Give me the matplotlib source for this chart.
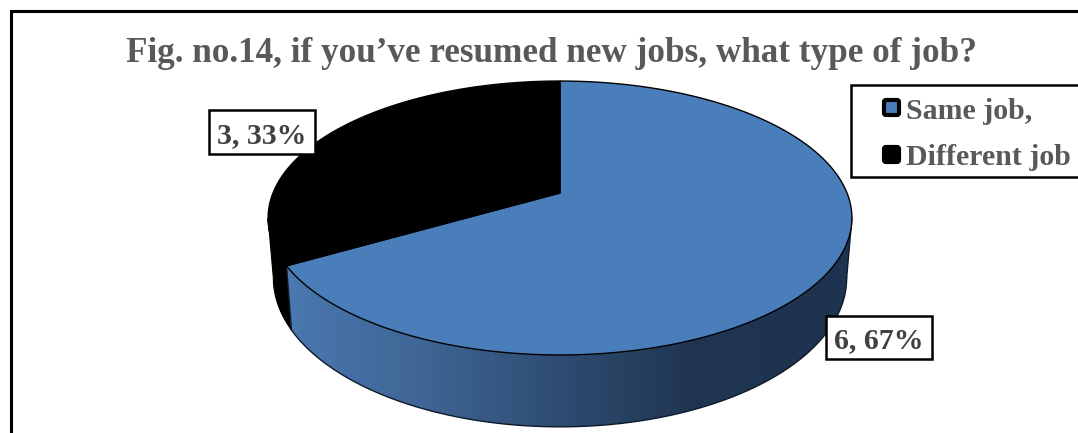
import numpy as np
import matplotlib
matplotlib.use("Agg")
import matplotlib.pyplot as plt
from matplotlib.colors import LinearSegmentedColormap
from matplotlib.patches import Polygon, Rectangle, FancyBboxPatch

plt.rcParams['font.family'] = ['Liberation Serif', 'DejaVu Serif']

title = "Fig. no.14, if you’ve resumed new jobs, what type of job?"
categories = ["Same job,", "Different job"]
values = [6, 3]
percents = [67, 33]
top_colors = ["#4A7EBB", "#000000"]

W, H = 1078, 433
fig = plt.figure(figsize=(W / 100, H / 100), dpi=100)
ax = fig.add_axes([0, 0, 1, 1])
ax.axis("off")

# Projective view of a tilted disc, centred on the pie's apex
CX, CY = 560, 193
A, B, K = 287, 132.4, 0.1825
DROP, SX, SY = 57.8, 0.982, 1.087


def project(theta):
    """Clockwise angle from twelve o'clock to points on the top rim."""
    u, v = np.sin(theta), np.cos(theta)
    d = 1 + K * v
    return A * u / d, -B * v / d


def lower_rim(theta):
    x, y = project(theta)
    return x * SX, y * SY + DROP


def xy(x, y):
    return np.column_stack([CX + x, CY + y])


def wall(t):
    return np.vstack([xy(*project(t)), xy(*lower_rim(t[::-1]))])


fractions = np.cumsum([0] + values) / sum(values)
edges = 2 * np.pi * fractions

# Angles where the rim turns back: the walls are only visible in front of these
sweep = np.linspace(0, 2 * np.pi, 7200)
right_turn = sweep[np.argmax(project(sweep)[0])]
left_turn = sweep[np.argmin(project(sweep)[0])]

side_cmap = LinearSegmentedColormap.from_list(
    "side", ["#4A78B0", "#3F6594", "#2E4C72", "#1F3550", "#1E3350"])

# Black wall, seen on the left behind the blue one
black_t = np.linspace(edges[1], left_turn, 200)
ax.add_patch(Polygon(wall(black_t), closed=True, facecolor="black", edgecolor="black",
                     linewidth=0.8, zorder=2))

# Blue wall, shaded from left to right with a clipped gradient
blue_t = np.linspace(right_turn, edges[1], 400)
blue_wall = Polygon(wall(blue_t), closed=True, facecolor="none", edgecolor="none",
                    transform=ax.transData)
ax.add_patch(blue_wall)
shade = np.linspace(0, 1, 545).reshape(1, -1)
image = ax.imshow(shade, cmap=side_cmap, extent=(287, 832, 433, 0), aspect="auto", zorder=3)
image2 = ax.imshow(np.ones((1, 1)), cmap=side_cmap, vmin=0, vmax=1,
                   extent=(832, 870, 433, 0), aspect="auto", zorder=3)
image.set_clip_path(blue_wall)
image2.set_clip_path(blue_wall)

ax.set_xlim(0, W)
ax.set_ylim(H, 0)

# Outline of the visible blue wall
ax.plot(*wall(blue_t)[len(blue_t) - 1:].T, color="#0E1A2A", lw=1.0, zorder=3.5)
ax.plot(*wall(blue_t)[[0, -1]].T, color="#0E1A2A", lw=1.0, zorder=3.5)

# Top faces of the slices
for i in range(len(values)):
    t = np.linspace(edges[i], edges[i + 1], 300)
    rim = xy(*project(t))
    ax.add_patch(Polygon(np.vstack([[CX, CY], rim]), closed=True, facecolor=top_colors[i],
                         edgecolor="#000000", linewidth=1.0, zorder=4, joinstyle="round"))

# Frame of the chart area: only top and left edges fall inside the crop
ax.plot([10.5, 10.5, W], [H, 10.5, 10.5], color="black", lw=2.2, zorder=1,
        solid_joinstyle="miter")

ax.text(552, 61.5, title, fontsize=25.3, fontweight="bold", color="#595959",
        ha="center", va="baseline", zorder=6)

# Legend
ax.add_patch(Rectangle((851, 85), 240, 92, facecolor="white", edgecolor="black",
                       lw=1.8, zorder=5))
for y0, color in zip((100, 147), top_colors):
    ax.add_patch(FancyBboxPatch((884, y0), 15, 15, boxstyle="round,pad=0,rounding_size=2",
                                facecolor=color, edgecolor="black", lw=3.0, zorder=6))
ax.text(906, 119, categories[0], fontsize=21.5, fontweight="bold", color="#595959",
        va="baseline", zorder=6)
ax.text(906, 165, categories[1], fontsize=21.5, fontweight="bold", color="#595959",
        va="baseline", zorder=6)

# Data labels
label_boxes = [(826, 316, 106, 43), (209, 110, 106, 44)]
for val, pct, (x, y, w, h) in zip(values, percents, label_boxes):
    ax.add_patch(Rectangle((x, y), w, h, facecolor="white", edgecolor="black", lw=1.8, zorder=7))
    ax.text(x + w / 2 - 0.5, y + h - 11, f"{val}, {pct}%", fontsize=21.5, fontweight="bold",
            color="#404040", ha="center", va="baseline", zorder=8)

fig.savefig("out.png", dpi=100)
